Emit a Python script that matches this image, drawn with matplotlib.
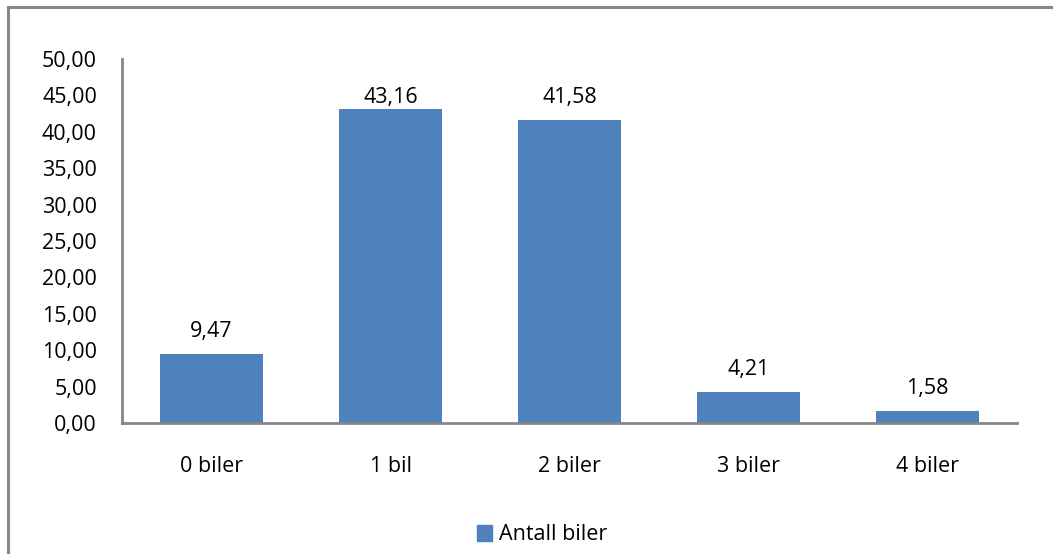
import matplotlib.pyplot as plt
from matplotlib.patches import Rectangle

# Data
kategorier = ['0 biler', '1 bil', '2 biler', '3 biler', '4 biler']
andel = [9.47, 43.16, 41.58, 4.21, 1.58]
serie_navn = 'Antall biler'
yticks = [0, 5, 10, 15, 20, 25, 30, 35, 40, 45, 50]

W, H = 1053, 554
plt.rcParams['font.family'] = ['Open Sans', 'DejaVu Sans']
fs = 15.5
grey = '#868686'
blue = '#4F81BD'

fig = plt.figure(figsize=(W / 100, H / 100), dpi=100)
ax = fig.add_axes([122 / W, 1 - 423 / H, (1017 - 122) / W, (423 - 59) / H])

x = list(range(len(kategorier)))
bars = ax.bar(x, andel, width=0.57, color=blue, zorder=2)

ax.set_xlim(-0.5, len(kategorier) - 0.5)
ax.set_ylim(0, 50)
ax.set_yticks(yticks)
ax.set_yticklabels([f'{v:.2f}'.replace('.', ',') for v in yticks], fontsize=fs)
ax.set_xticks(x)
ax.set_xticklabels(kategorier, fontsize=fs)
ax.tick_params(axis='both', length=0, colors='black')
ax.tick_params(axis='y', pad=18)
ax.tick_params(axis='x', pad=24)

for s in ['top', 'right']:
    ax.spines[s].set_visible(False)
for s in ['left', 'bottom']:
    ax.spines[s].set_color(grey)
    ax.spines[s].set_linewidth(2)

# Excel pushes the tallest label down so it stays inside the plot area
lab_max = 41.6
for b, v in zip(bars, andel):
    ax.annotate(f'{v:.2f}'.replace('.', ','),
                (b.get_x() + b.get_width() / 2, min(v, lab_max)),
                xytext=(0, 9), textcoords='offset points',
                ha='center', va='bottom', fontsize=fs)

fig.legend(handles=[Rectangle((0, 0), 1, 1, color=blue)], labels=[serie_navn],
           loc='center', bbox_to_anchor=(542 / W, 1 - 535 / H), frameon=False,
           fontsize=fs, handlelength=0.7, handleheight=0.7, handletextpad=0.3)

# outer chart border (only top and left visible in the reference crop)
fig.add_artist(Rectangle((7.5 / W, -0.1), 1.2, 1 - 7.5 / H + 0.1,
                         transform=fig.transFigure, fill=False,
                         edgecolor=grey, linewidth=2.2))

fig.savefig('out.png', dpi=100)
